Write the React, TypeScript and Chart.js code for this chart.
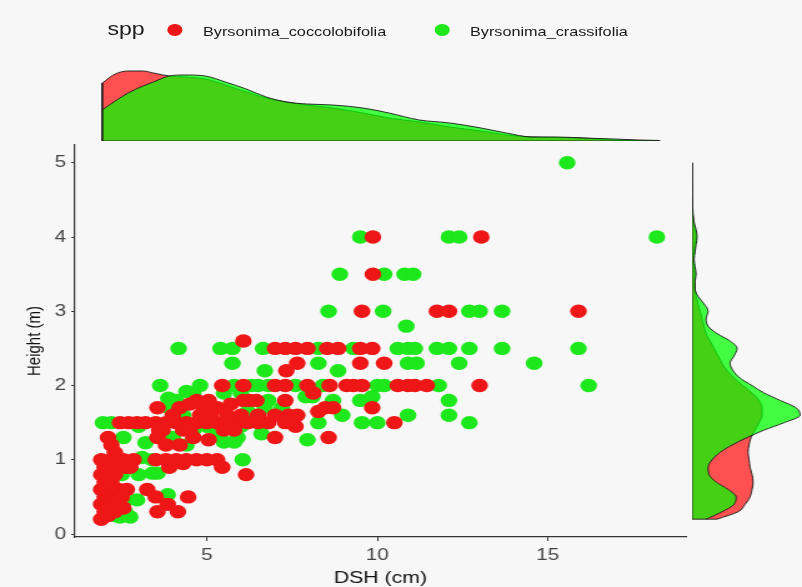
import React, { useEffect, useRef } from "react";
import { Chart, registerables } from "chart.js";

Chart.register(...registerables);

// ---------------- data ----------------
const SPECIES = ["Byrsonima_coccolobifolia", "Byrsonima_crassifolia"];
const LEGEND_TITLE = "spp";
const X_TITLE = "DSH (cm)";
const Y_TITLE = "Height (m)";
const X_TICKS = [5, 10, 15];
const Y_TICKS = [0, 1, 2, 3, 4, 5];

const COCCO_DSH = [
  1.9, 2.1, 2.0, 2.3, 1.9, 2.1, 2.0, 2.2, 1.9, 2.1, 2.4, 2.0, 2.2, 1.9, 2.1, 2.3, 2.0, 2.2, 2.6, 1.9,
  2.2, 2.55, 2.85, 2.75, 2.2, 2.1, 2.3, 2.65, 2.5, 2.55, 3.25, 3.5, 3.85, 4.45, 3.55, 4.15, 2.4,
  3.5, 3.8, 4.1, 4.4, 4.7, 5.0, 5.3, 3.9, 4.3, 5.45, 6.15,
  3.55, 3.8, 4.2, 4.6, 5.05, 3.7, 4.3, 7.0, 8.57,
  2.45, 2.7, 2.95, 3.2, 3.5, 3.8, 4.1, 4.4, 4.7, 5.0, 5.3, 5.6, 5.9, 6.2, 6.5, 6.8, 7.6, 10.5, 7.3,
  3.6, 4.0, 4.5, 5.1, 5.5, 5.6, 6.0, 6.5, 7.0, 7.4, 7.65, 4.8, 5.8,
  3.55, 4.2, 4.5, 4.7, 5.05, 5.3, 5.7, 6.07, 6.25, 6.45, 7.3, 8.27, 8.47, 8.7, 9.85, 4.9,
  5.45, 6.07, 7.0, 7.3, 7.95, 8.12, 8.6, 9.1, 9.3, 9.55, 10.6, 10.9, 11.1, 11.45, 13.0,
  7.33, 7.65, 9.5, 10.2,
  7.0, 7.3, 7.6, 7.95, 8.53, 8.85, 9.5, 9.85,
  6.07,
  9.55, 11.75, 12.1, 15.9,
  9.87,
  9.87, 13.05,
];
const COCCO_HEIGHT = [
  0.2, 0.25, 0.3, 0.3, 0.4, 0.4, 0.5, 0.5, 0.6, 0.6, 0.6, 0.7, 0.7, 0.8, 0.8, 0.8, 0.9, 0.9, 0.9, 1.0,
  1.0, 1.0, 1.0, 0.9, 1.2, 1.3, 1.1, 0.6, 0.5, 0.35, 0.6, 0.5, 0.4, 0.5, 0.3, 0.3, 0.4,
  1.0, 1.0, 1.0, 1.0, 1.0, 1.0, 1.0, 0.9, 0.95, 0.9, 0.8,
  1.3, 1.2, 1.2, 1.3, 1.27, 1.4, 1.4, 1.3, 1.3,
  1.5, 1.5, 1.5, 1.5, 1.5, 1.5, 1.5, 1.5, 1.5, 1.5, 1.5, 1.5, 1.5, 1.5, 1.5, 1.5, 1.45, 1.5, 1.5,
  1.4, 1.6, 1.4, 1.6, 1.4, 1.6, 1.6, 1.6, 1.6, 1.6, 1.6, 1.6, 1.4,
  1.7, 1.7, 1.75, 1.8, 1.8, 1.7, 1.75, 1.8, 1.8, 1.8, 1.8, 1.65, 1.7, 1.7, 1.7, 1.7,
  2.0, 2.0, 2.0, 2.0, 2.0, 1.9, 2.0, 2.0, 2.0, 2.0, 2.0, 2.0, 2.0, 2.0, 2.0,
  2.2, 2.3, 2.3, 2.3,
  2.5, 2.5, 2.5, 2.5, 2.5, 2.5, 2.5, 2.5,
  2.6,
  3.0, 3.0, 3.0, 3.0,
  3.5,
  4.0, 4.0,
];

const CRASSI_DSH = [
  15.57, 18.2, 9.5, 12.1, 12.4,
  8.9, 10.2, 10.8, 11.05,
  8.57, 10.17, 12.7, 13.0, 13.66,
  10.85,
  4.17, 5.4, 5.75, 6.65, 8.27, 9.3, 10.6, 10.9, 11.1, 11.75, 12.1, 12.7, 13.66, 15.9,
  5.75, 8.27, 10.9, 11.15, 12.4, 14.6,
  6.7, 8.85,
  3.63, 4.8, 5.8, 6.3, 6.5, 6.8, 7.6, 8.4, 10.0, 10.2, 11.8, 16.2,
  3.87, 4.4, 4.1, 5.5, 6.0, 6.8, 7.9, 8.1, 8.7, 9.5, 9.85, 12.1, 4.6,
  3.9, 4.3, 5.0, 6.7, 7.2, 8.97, 10.9, 12.1, 6.2,
  1.95, 2.2, 3.0, 5.0, 6.0, 8.27, 9.55, 10.0, 12.7,
  2.55, 3.2, 4.0, 4.6, 5.3, 5.9, 6.6, 7.95, 4.4, 5.5, 5.8,
  3.1, 6.05, 3.4,
  3.4, 3.55, 2.5, 3.0,
  2.95, 3.85, 2.4, 2.6,
  2.45, 2.75, 2.3, 2.6,
];
const CRASSI_HEIGHT = [
  5.0, 4.0, 4.0, 4.0, 4.0,
  3.5, 3.5, 3.5, 3.5,
  3.0, 3.0, 3.0, 3.0, 3.0,
  2.8,
  2.5, 2.5, 2.5, 2.5, 2.5, 2.5, 2.5, 2.5, 2.5, 2.5, 2.5, 2.5, 2.5, 2.5,
  2.3, 2.3, 2.3, 2.3, 2.3, 2.3,
  2.2, 2.2,
  2.0, 2.0, 2.0, 2.0, 2.0, 2.0, 2.0, 2.0, 2.0, 2.0, 2.0, 2.0,
  1.83, 1.92, 1.8, 1.9, 1.9, 1.8, 1.85, 1.85, 1.8, 1.8, 1.85, 1.8, 1.9,
  1.7, 1.6, 1.65, 1.7, 1.7, 1.6, 1.6, 1.6, 1.65,
  1.5, 1.5, 1.45, 1.45, 1.45, 1.5, 1.5, 1.5, 1.5,
  1.3, 1.23, 1.3, 1.4, 1.35, 1.3, 1.35, 1.27, 1.2, 1.24, 1.24,
  1.03, 1.0, 1.0,
  0.82, 0.82, 0.8, 0.8,
  0.46, 0.53, 0.5, 0.45,
  0.23, 0.23, 0.25, 0.3,
];

// marginal density of DSH (top)
const TOP_DSH = [1.93, 2.31, 2.69, 3.13, 3.43, 3.9, 4.34, 4.95, 5.54, 6.15, 6.74, 7.33, 7.94, 8.68, 9.58, 10.34, 11.23, 12.13, 13.04, 13.78, 14.54, 15.27, 16.03, 16.95, 17.67, 18.29];
const TOP_COCCO = [0.1566, 0.1809, 0.189, 0.189, 0.1836, 0.1755, 0.1728, 0.1674, 0.1512, 0.1323, 0.1161, 0.1053, 0.0972, 0.0891, 0.0756, 0.0621, 0.0513, 0.0378, 0.027, 0.0162, 0.0108, 0.0095, 0.0081, 0.0027, 0.0008, 0.0003];
const TOP_CRASSI = [0.0837, 0.108, 0.1296, 0.1485, 0.1593, 0.1755, 0.1782, 0.1755, 0.1593, 0.1404, 0.1188, 0.1053, 0.0999, 0.0972, 0.0891, 0.0756, 0.0567, 0.0486, 0.0351, 0.0216, 0.0108, 0.0108, 0.0081, 0.0054, 0.0027, 0.0014];

// marginal density of Height (right)
const RIGHT_HEIGHT = [0.2, 0.3, 0.4, 0.5, 0.6, 0.7, 0.8, 0.9, 1.0, 1.1, 1.2, 1.3, 1.4, 1.5, 1.6, 1.7, 1.8, 1.9, 2.0, 2.1, 2.2, 2.3, 2.4, 2.5, 2.6, 2.7, 2.8, 2.9, 3.0, 3.1, 3.2, 3.3, 3.4, 3.5, 3.6, 3.7, 3.8, 3.9, 4.0, 4.1, 4.2, 4.4, 4.6, 4.8, 5.0];
const RIGHT_COCCO = [0.1, 0.184, 0.212, 0.232, 0.24, 0.244, 0.24, 0.232, 0.228, 0.224, 0.228, 0.236, 0.252, 0.268, 0.28, 0.28, 0.268, 0.24, 0.204, 0.168, 0.14, 0.12, 0.104, 0.088, 0.072, 0.056, 0.048, 0.04, 0.032, 0.024, 0.016, 0.012, 0.01, 0.012, 0.008, 0.006, 0.008, 0.012, 0.016, 0.012, 0.006, 0.0016, 0.0008, 0.0004, 0.0004];
const RIGHT_CRASSI = [0.056, 0.12, 0.168, 0.176, 0.144, 0.096, 0.068, 0.064, 0.08, 0.112, 0.16, 0.22, 0.288, 0.368, 0.432, 0.416, 0.352, 0.288, 0.24, 0.192, 0.164, 0.152, 0.168, 0.18, 0.152, 0.1, 0.064, 0.056, 0.064, 0.048, 0.024, 0.012, 0.012, 0.016, 0.012, 0.008, 0.012, 0.016, 0.02, 0.016, 0.008, 0.0024, 0.0012, 0.0008, 0.0008];

// ---------------- layout / style ----------------
const W = 642;
const H = 587;
const SX = 802 / W;
const X_MIN = 1.13;
const X_MAX = 19.05;
const Y_MIN = -0.04;
const Y_MAX = 5.24;
const TOP_MAX = 0.2025;
const RIGHT_MAX = 88 * SX * 0.004;

const FONT = '"Liberation Sans", Arial, Helvetica, sans-serif';
const BG = "#f7f7f7";
const AXIS = "#333333";
const TICK = "#444444";
const RED_PT = "rgb(238,22,22)";
const GREEN_PT = "rgb(28,232,28)";
const RED_FILL = "rgba(255,0,0,0.68)";
const GREEN_FILL = "rgba(0,255,0,0.73)";
const OUTLINE = "rgba(25,25,25,0.9)";

const pts = (xs: number[], ys: number[]) => xs.map((x, i) => ({ x, y: ys[i] }));

export default function App() {
  const mainRef = useRef<HTMLCanvasElement | null>(null);
  const topRef = useRef<HTMLCanvasElement | null>(null);
  const rightRef = useRef<HTMLCanvasElement | null>(null);

  useEffect(() => {
    const charts: Chart[] = [];

    charts.push(
      new Chart(mainRef.current as HTMLCanvasElement, {
        type: "scatter",
        data: {
          datasets: [
            {
              label: SPECIES[0],
              data: pts(COCCO_DSH, COCCO_HEIGHT),
              backgroundColor: RED_PT,
              pointRadius: 6.7,
              pointHoverRadius: 6.7,
              pointBorderWidth: 0,
              borderWidth: 0,
            },
            {
              label: SPECIES[1],
              data: pts(CRASSI_DSH, CRASSI_HEIGHT),
              backgroundColor: GREEN_PT,
              pointRadius: 6.7,
              pointHoverRadius: 6.7,
              pointBorderWidth: 0,
              borderWidth: 0,
            },
          ],
        },
        options: {
          responsive: false,
          animation: false,
          events: [],
          layout: { padding: { left: 0, top: 145, right: 93, bottom: 0 } },
          plugins: { legend: { display: false }, tooltip: { enabled: false } },
          scales: {
            x: {
              type: "linear",
              min: X_MIN,
              max: X_MAX,
              afterBuildTicks: (s: any) => {
                s.ticks = X_TICKS.map((v) => ({ value: v }));
              },
              afterFit: (s: any) => {
                s.height = 50;
              },
              grid: { display: true, drawOnChartArea: false, drawTicks: true, tickLength: 4, color: AXIS, lineWidth: 1 },
              border: { display: true, color: AXIS, width: 1.2 },
              ticks: { color: TICK, font: { family: FONT, size: 16.5 }, padding: 5, maxRotation: 0 },
              title: {
                display: true,
                text: X_TITLE,
                color: "#111",
                font: { family: FONT, size: 17, lineHeight: 1 },
                padding: { top: 0, bottom: 0 },
              },
            },
            y: {
              type: "linear",
              min: Y_MIN,
              max: Y_MAX,
              afterBuildTicks: (s: any) => {
                s.ticks = Y_TICKS.map((v) => ({ value: v }));
              },
              afterFit: (s: any) => {
                s.width = 60;
              },
              grid: { display: true, drawOnChartArea: false, drawTicks: true, tickLength: 3, color: AXIS, lineWidth: 1 },
              border: { display: true, color: AXIS, width: 1.2 },
              ticks: { color: TICK, font: { family: FONT, size: 16.5 }, padding: 4 },
              title: {
                display: true,
                text: Y_TITLE,
                color: "#111",
                font: { family: FONT, size: 15, lineHeight: 1 },
                padding: { top: 20, bottom: 0 },
              },
            },
          },
        },
      } as any)
    );

    const lastTop = TOP_DSH.length - 1;
    charts.push(
      new Chart(topRef.current as HTMLCanvasElement, {
        type: "line",
        data: {
          datasets: [
            {
              label: "outline",
              data: [
                { x: TOP_DSH[0], y: TOP_COCCO[0] },
                { x: TOP_DSH[0], y: 0 },
                { x: TOP_DSH[lastTop], y: 0 },
              ],
              borderColor: OUTLINE,
              borderWidth: 1,
              pointRadius: 0,
              fill: false,
              tension: 0,
            },
            {
              label: SPECIES[1],
              data: pts(TOP_DSH, TOP_CRASSI),
              borderColor: OUTLINE,
              borderWidth: 1,
              backgroundColor: GREEN_FILL,
              fill: "origin",
              pointRadius: 0,
              cubicInterpolationMode: "monotone",
            },
            {
              label: SPECIES[0],
              data: pts(TOP_DSH, TOP_COCCO),
              borderColor: OUTLINE,
              borderWidth: 1,
              backgroundColor: RED_FILL,
              fill: "origin",
              pointRadius: 0,
              cubicInterpolationMode: "monotone",
            },
          ],
        },
        options: {
          responsive: false,
          animation: false,
          events: [],
          layout: { padding: { left: 60, right: 93, top: 66, bottom: 5 } },
          plugins: { legend: { display: false }, tooltip: { enabled: false } },
          scales: {
            x: { type: "linear", min: X_MIN, max: X_MAX, display: false },
            y: { type: "linear", min: 0, max: TOP_MAX, display: false },
          },
        },
      } as any)
    );

    const lastRight = RIGHT_HEIGHT.length - 1;
    charts.push(
      new Chart(rightRef.current as HTMLCanvasElement, {
        type: "line",
        data: {
          datasets: [
            {
              label: "outline",
              data: [
                { x: RIGHT_COCCO[0], y: RIGHT_HEIGHT[0] },
                { x: 0, y: RIGHT_HEIGHT[0] },
                { x: 0, y: RIGHT_HEIGHT[lastRight] },
              ],
              borderColor: OUTLINE,
              borderWidth: 1,
              pointRadius: 0,
              fill: false,
              tension: 0,
            },
            {
              label: SPECIES[1],
              data: pts(RIGHT_CRASSI, RIGHT_HEIGHT),
              borderColor: OUTLINE,
              borderWidth: 1,
              backgroundColor: GREEN_FILL,
              fill: "origin",
              pointRadius: 0,
              cubicInterpolationMode: "monotone",
            },
            {
              label: SPECIES[0],
              data: pts(RIGHT_COCCO, RIGHT_HEIGHT),
              borderColor: OUTLINE,
              borderWidth: 1,
              backgroundColor: RED_FILL,
              fill: "origin",
              pointRadius: 0,
              cubicInterpolationMode: "monotone",
            },
          ],
        },
        options: {
          responsive: false,
          animation: false,
          events: [],
          indexAxis: "y",
          layout: { padding: { left: 5, right: 0, top: 145, bottom: 50 } },
          plugins: { legend: { display: false }, tooltip: { enabled: false } },
          scales: {
            x: { type: "linear", min: 0, max: RIGHT_MAX, display: false },
            y: { type: "linear", min: Y_MIN, max: Y_MAX, display: false },
          },
        },
      } as any)
    );

    return () => {
      charts.forEach((c) => c.destroy());
    };
  }, []);

  const dot = (cx: number, color: string) => (
    <div
      style={{
        position: "absolute",
        left: cx - 5.75,
        top: 30 - 5.75,
        width: 11.5,
        height: 11.5,
        borderRadius: "50%",
        background: color,
      }}
    />
  );

  const label = (left: number, text: string) => (
    <div
      style={{
        position: "absolute",
        left,
        top: 25,
        fontFamily: FONT,
        fontSize: 13,
        lineHeight: "13px",
        color: "#1a1a1a",
        whiteSpace: "nowrap",
      }}
    >
      {text}
    </div>
  );

  return (
    <div
      style={{
        position: "fixed",
        left: 0,
        top: 0,
        width: W,
        height: H,
        transform: `scaleX(${SX})`,
        transformOrigin: "0 0",
        background: BG,
        overflow: "hidden",
      }}
    >
      <canvas ref={topRef} width={W} height={146} style={{ position: "absolute", left: 0, top: 0 }} />
      <canvas ref={mainRef} width={W} height={H} style={{ position: "absolute", left: 0, top: 0 }} />
      <canvas ref={rightRef} width={93} height={H} style={{ position: "absolute", left: 549, top: 0 }} />
      <div
        style={{
          position: "absolute",
          left: 86,
          top: 20,
          fontFamily: FONT,
          fontSize: 18.5,
          lineHeight: "18.5px",
          color: "#1a1a1a",
        }}
      >
        {LEGEND_TITLE}
      </div>
      {dot(140, RED_PT)}
      {label(162.5, SPECIES[0])}
      {dot(353.8, GREEN_PT)}
      {label(376.2, SPECIES[1])}
    </div>
  );
}
